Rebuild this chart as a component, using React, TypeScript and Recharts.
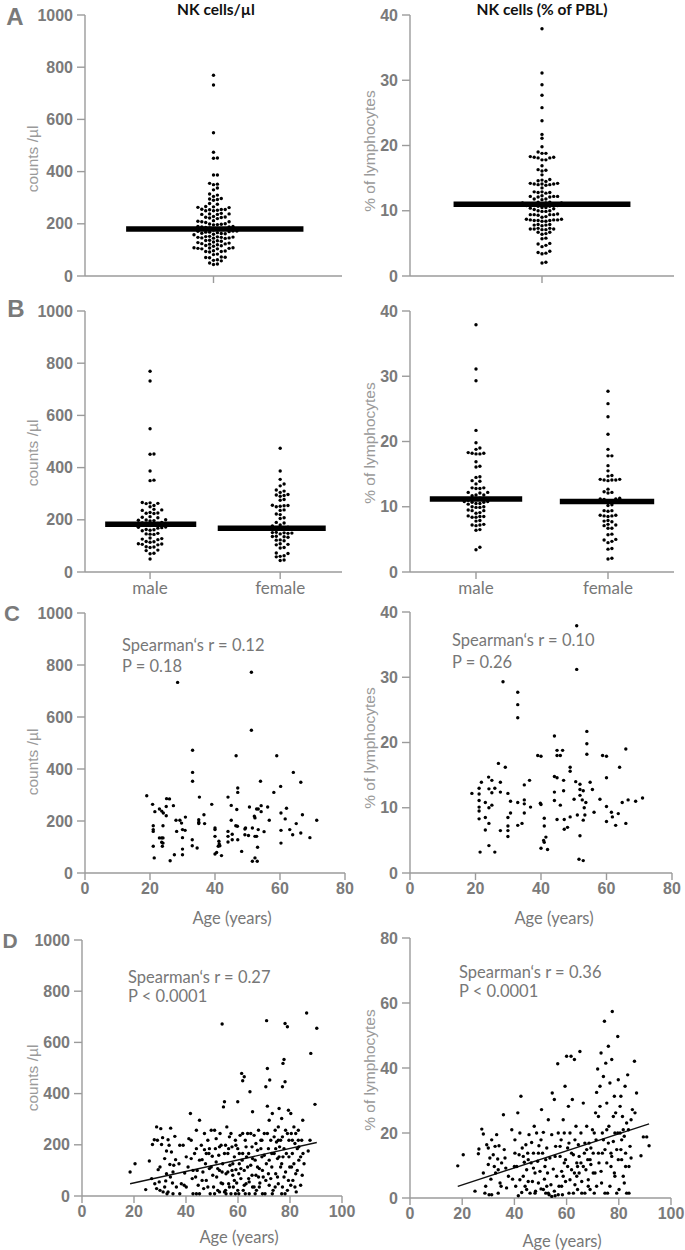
import React from 'react';
import { ScatterChart, Scatter, XAxis, YAxis, ReferenceLine } from 'recharts';

// NK cells per µl by sex (panel B); panel A pools both groups
const countsMale = [769, 732, 549, 452, 451, 387, 352, 350, 266, 265, 263, 262, 255, 250, 240, 238, 236, 228, 226, 225, 224, 212, 210, 208, 200, 199, 198, 197, 196, 190, 188, 186, 184, 182, 178, 172, 171, 170, 168, 163, 162, 160, 158, 148, 146, 145, 144, 130, 128, 126, 124, 117, 116, 114, 108, 107, 106, 104, 97, 96, 94, 84, 82, 72, 70, 50];
const countsFemale = [474, 387, 355, 337, 330, 314, 310, 305, 297, 295, 293, 290, 278, 275, 256, 255, 254, 252, 250, 238, 236, 222, 220, 208, 205, 190, 188, 180, 176, 172, 168, 166, 164, 152, 151, 150, 149, 148, 146, 137, 136, 135, 133, 123, 122, 120, 108, 106, 104, 94, 92, 73, 71, 62, 60, 58, 46, 44];

// NK cells as % of lymphocytes by sex
const pctMale = [37.9, 31.1, 29.3, 21.7, 19.8, 19.0, 18.8, 18.3, 18.2, 18.2, 18.1, 18.1, 16.9, 16.2, 16.1, 14.6, 14.5, 14.0, 13.9, 13.5, 12.9, 12.9, 12.8, 12.8, 12.2, 12.2, 12.1, 11.8, 11.8, 11.7, 11.3, 11.2, 11.0, 10.8, 10.8, 10.7, 10.7, 10.5, 10.5, 10.4, 10.0, 10.0, 9.9, 9.9, 9.5, 9.4, 9.4, 9.1, 9.0, 8.6, 8.5, 8.5, 8.4, 8.4, 7.9, 7.8, 7.3, 7.2, 7.2, 7.1, 6.5, 6.4, 3.8, 3.4];
const pctFemale = [27.7, 25.8, 23.8, 21.1, 18.8, 17.8, 17.8, 16.3, 15.5, 14.8, 14.7, 14.2, 14.1, 14.1, 14.0, 14.1, 14.2, 12.7, 12.3, 12.1, 12.2, 11.3, 11.2, 11.1, 11.2, 10.9, 10.8, 10.3, 10.2, 9.4, 9.3, 9.4, 8.7, 8.6, 8.5, 8.6, 8.7, 7.8, 7.7, 7.9, 7.2, 7.1, 7.3, 6.7, 6.7, 5.7, 5.8, 5.0, 4.9, 4.5, 4.7, 3.6, 3.5, 2.0, 2.1];

// medians: [value, line start, line end] (x in category units)
const medCountsAll = [180, -0.68, 0.7];
const medPctAll = [11.0, -0.67, 0.67];
const medCountsSex = [[183, 0.31, 1.71], [168, 2.04, 3.7]];
const medPctSex = [[11.2, 0.3, 1.7], [10.8, 2.27, 3.7]];
const sexLabels: Record<number, string> = { 1: 'male', 3: 'female' };

// panel C: [age, value]
const cCounts: [number, number][] = [[19,297],[20.8,264],[21.5,236],[21,182],[21,167],[21,160],[21,103],[21.3,58],[22.9,246],[23.6,238],[24.1,231],[22.9,135],[23.6,135],[24,135],[23.6,118],[24,115],[23.8,103],[24,182],[25,256],[25.1,286],[25,220],[26,285],[26.2,47],[27.2,259],[27.5,70],[28,203],[28.2,160],[28.5,733],[29.2,203],[29.7,192],[30,136],[30,167],[30,92],[30,70],[30.8,164],[30.9,215],[33.1,472],[33.1,387],[33.1,353],[33,128],[33,105],[34.5,96],[35.2,292],[35,205],[35,195],[35,190],[36.6,224],[36.8,190],[39,264],[40,173],[40,167],[40,141],[40,73],[40.5,79],[41.2,122],[41.3,112],[41,103],[41.5,105],[42,67],[44,292],[44,160],[44,141],[44,119],[45,260],[45,203],[45.3,149],[45.3,128],[46.5,451],[46.7,244],[46.9,180],[46.4,182],[47,310],[47,327],[47,128],[48.2,83],[49.2,169],[49.4,173],[49.2,147],[50.3,144],[50.6,254],[51.2,772],[51.2,549],[51.5,173],[51.5,45],[52.1,218],[52.3,212],[52.3,141],[52.8,141],[52.3,58],[53,45],[52.8,246],[53.3,246],[53.3,167],[53.1,99],[54,353],[54.2,259],[54.2,236],[55.1,159],[56.2,254],[56.7,203],[58.1,310],[59,451],[60.2,333],[60.3,231],[60.3,164],[60.3,115],[61.6,208],[62,249],[63,167],[63.9,147],[64.1,387],[65,190],[66.4,349],[66.4,154],[66.9,224],[69.2,136],[71.3,203]];
const cPct: [number, number][] = [[18.9,12.2],[21.1,13.0],[21.1,12.1],[21.1,11.1],[21.1,10.1],[21.1,9.5],[21.1,8.3],[21.4,3.2],[21.8,13.9],[23,10.8],[23,8.5],[23,6.6],[24,14.7],[24.1,12.9],[24.1,10.0],[24.1,7.6],[24.1,4.2],[25,14.2],[25,12.3],[25,10.4],[25.9,13.0],[25.9,3.2],[27,16.8],[27.6,13.9],[27.6,12.4],[27.6,6.5],[28.4,29.3],[29.1,16.2],[29.9,12.2],[29.9,8.5],[29.9,7.2],[29.9,6.5],[29.9,5.6],[30.7,11.0],[30.7,9.2],[32.9,27.7],[32.9,25.8],[32.9,23.8],[32.9,10.8],[32.9,7.3],[34.2,7.6],[34.9,13.5],[34.9,11.2],[34.9,10.6],[34.9,9.2],[36.5,14.2],[36.8,10.1],[39,18.0],[40,17.9],[39.8,10.7],[40,10.5],[40,3.8],[40.8,5.0],[41,4.7],[41,8.4],[41,7.2],[41.5,5.5],[42,3.6],[44.1,21.0],[44.1,14.8],[44.1,12.4],[44.1,11.1],[44.9,18.8],[44.9,18.0],[44.9,14.6],[44.9,8.2],[45.9,18.0],[45.9,10.4],[46.6,18.8],[46.9,14.2],[46.9,12.6],[47.1,8.2],[47.1,6.7],[48.1,7.0],[48.9,16.2],[48.9,15.6],[48.9,8.6],[50.1,11.3],[50.6,14.0],[50.9,37.9],[50.9,31.2],[51.1,8.9],[51.6,2.1],[51.9,13.6],[51.9,12.8],[51.9,11.9],[51.9,5.7],[52.6,11.2],[52.9,12.6],[52.9,8.1],[52.9,1.9],[53.2,10.0],[53.4,8.9],[53.7,10.8],[54,21.7],[54,19.8],[54,18.2],[55,13.9],[55.7,12.8],[56.2,9.3],[58,11.3],[58.8,18.0],[60,17.9],[60,14.6],[60,10.2],[60,7.9],[61.5,9.3],[61.8,8.6],[62.8,7.3],[63.6,9.1],[64,16.2],[64.8,10.8],[65.9,19.0],[65.9,7.6],[66.6,11.2],[68.9,11.0],[71,11.5]];

// panel D: [age, value]
const dCounts: [number, number][] = [[18.5,94],[20.4,126],[24.5,25],[25.9,137],[27.1,201],[27.8,220],[28.7,270],[29,218],[29.3,103],[29.7,55],[30,22],[30.3,263],[30.6,201],[31,228],[31.2,16],[31.8,146],[32.2,59],[32.5,176],[32.7,9],[33.1,220],[33.5,198],[33.8,123],[34,74],[34.1,265],[34.4,172],[34.8,51],[35,9],[35.3,120],[35.7,233],[36,142],[36.3,35],[28.7,29],[26.8,68],[28,48],[31.8,35],[33.1,16],[30,113],[32.5,87],[35,94],[37.6,198],[37.3,126],[38.2,48],[38.9,198],[39.5,90],[40.1,35],[40.8,113],[41.1,224],[41.7,322],[42,146],[42.4,68],[42.7,9],[43.3,166],[43.7,74],[44,257],[44.3,100],[44.7,42],[45.2,296],[45.2,9],[45.9,198],[46.2,142],[46.5,94],[46.8,29],[47.1,181],[47.5,126],[47.8,61],[48.4,218],[48.8,166],[49,107],[49.3,9],[49.7,257],[50.1,155],[50.3,81],[50.6,35],[51,257],[51.3,185],[51.6,133],[51.8,74],[52.2,22],[52.6,159],[52.9,100],[53.1,244],[53.5,51],[53.9,672],[54.1,126],[54.4,348],[54.8,368],[54.8,16],[55.2,198],[55.4,87],[55.7,270],[56.1,166],[56.4,48],[56.7,231],[56.9,120],[57.3,9],[57.7,192],[58,81],[58.2,35],[58.6,153],[59,218],[59.2,103],[59.5,51],[59.9,368],[59.9,185],[60.3,9],[60.5,126],[60.8,237],[61.1,68],[61.4,479],[61.8,450],[61.8,166],[62,22],[62.4,466],[62.4,100],[62.8,218],[63.1,48],[63.3,153],[63.7,244],[64.1,68],[64.3,9],[64.6,407],[64.9,120],[65.4,192],[65.6,329],[65.6,35],[66.2,237],[66.6,140],[66.9,81],[67.1,22],[67.5,179],[67.9,257],[68.2,107],[68.4,51],[68.8,218],[69.2,153],[69.4,9],[69.7,74],[70.1,244],[71,685],[70.7,427],[70.9,126],[71.3,498],[71.3,351],[71.7,185],[72,296],[72,42],[72.2,453],[72.6,218],[73,113],[73.2,322],[73.5,22],[73.9,166],[74.3,257],[74.5,87],[74.8,211],[75.2,146],[75.5,270],[75.5,48],[75.8,342],[76,192],[76.4,113],[76.8,303],[76.8,9],[77.1,427],[77.1,231],[77.3,518],[77.3,153],[77.7,533],[77.7,74],[78.1,674],[78.1,446],[78.3,257],[78.6,166],[79,661],[79,22],[79.4,335],[79.6,218],[79.9,113],[80.3,322],[80.5,244],[80.9,166],[81.1,61],[81.5,270],[81.9,205],[82.2,87],[82.4,16],[82.8,185],[83.2,257],[83.4,140],[84.1,42],[84.5,218],[84.7,81],[85,166],[85.4,126],[87.7,218],[84.9,296],[86.4,715],[87,176],[88,557],[89.6,358],[90.3,655],[51.6,224],[52.2,107],[52.9,16],[53.5,198],[54.1,48],[54.8,166],[55.4,9],[56.1,94],[56.7,35],[57.3,244],[58,126],[58.6,61],[59.2,198],[59.9,22],[60.5,166],[61.1,107],[61.8,244],[62.4,42],[63.1,192],[63.7,113],[64.3,55],[64.9,244],[65.6,146],[66.2,35],[66.9,205],[67.5,113],[68.2,35],[68.8,185],[69.4,100],[70.1,159],[70.7,61],[71.3,244],[72,140],[72.6,68],[73.2,9],[73.9,231],[74.5,185],[75.2,74],[75.8,153],[76.4,218],[77.1,35],[77.7,185],[78.3,94],[79,244],[79.6,153],[80.3,42],[80.9,218],[81.5,126],[82.2,244],[82.8,100],[83.4,192],[84.1,153],[42,218],[44,9],[45.2,140],[47.1,244],[48.4,35],[49,185],[40.1,153],[37.6,9],[39.3,42],[42.7,100],[44,185],[46.2,61],[47.8,166],[49.7,113],[51,9],[52.9,192],[53.9,94],[55.2,22],[56.4,185],[57.7,100],[59,9],[60.3,87],[61.6,140],[62.8,9],[64.1,166],[65.4,81],[66.6,9],[67.9,74],[69.2,218],[70.4,9],[71.7,87],[73,166],[74.3,35],[75.5,218],[76.8,126],[78.1,9],[79.4,61],[80.6,113],[81.9,35],[83.2,218]];
const dPct: [number, number][] = [[18.3,9.9],[20.4,13.3],[24.9,2.1],[26.2,13.6],[26.4,15.1],[27.5,21.2],[28.1,19.7],[28.1,7.7],[28.7,1.5],[29,3.6],[29.4,16.4],[30,15.4],[30,10.3],[30.3,1.0],[30.6,12.3],[31,5.8],[31.3,1.0],[31.9,13.3],[32.3,9.7],[32.6,15.9],[32.8,7.7],[33.2,19.5],[33.6,12.0],[33.8,1.5],[34.1,16.1],[34.5,4.6],[34.9,3.6],[35.1,10.8],[35.8,25.6],[36.1,14.9],[36.4,12.3],[36.7,9.2],[37,3.1],[39,21],[39.3,5.8],[40,9.7],[40.2,17.9],[40.5,3.6],[40.9,9.7],[41.3,26.2],[41.5,0.7],[41.8,13.3],[42.1,5.6],[42.5,31.3],[42.8,1.7],[43,15.4],[43.4,6.7],[43.8,11.0],[44.1,3.6],[44.4,16.4],[44.7,8.7],[45.1,13.8],[45.3,5.1],[45.6,19.5],[46,1.5],[46.4,10.8],[46.6,17.1],[46.9,5.1],[47.3,13.8],[47.6,22.1],[47.9,7.7],[48.1,2.1],[48.5,20],[48.9,11.3],[49.2,4.6],[49.4,16.1],[49.8,8.2],[50.2,2.8],[50.4,27.2],[50.8,13.8],[51.1,20.2],[51.5,5.8],[51.7,9.7],[52,1.5],[52.4,15.4],[52.7,7.7],[53,24.1],[53.3,1.0],[53.6,12.3],[54,4.1],[54.3,19.5],[54.5,32.3],[54.9,8.9],[55.3,30.3],[55.6,0.7],[55.8,15.9],[56.2,6.7],[56.6,41.3],[56.8,20],[57.1,3.6],[57.5,12.8],[57.9,17.9],[58.1,8.2],[58.4,1.0],[58.7,24.1],[59.1,10.8],[59.4,34.4],[59.6,5.1],[60,43.6],[60.4,15.4],[60.7,28.2],[60.9,1.5],[61.3,20],[61.7,43.6],[61.9,8.7],[62.2,30.3],[62.6,13.3],[63,42.6],[63.2,4.1],[63.6,22.1],[63.9,10.8],[64.2,2.6],[64.5,16.4],[65.1,45.1],[64.8,7.7],[65.5,20],[65.8,5.1],[66.4,29.2],[66.8,13.8],[67,1.5],[67.4,8.7],[67.7,22.1],[68.1,11.8],[68.3,5.6],[68.6,16.9],[69,2.6],[69.3,10.3],[69.9,21],[70.2,13.8],[70.6,1.5],[70.9,7.7],[71.3,17.9],[71.5,32.5],[71.9,39.7],[72.2,25.1],[72.4,10.8],[72.8,34.4],[73.2,44.6],[73.4,4.6],[73.7,20],[74.1,37.4],[74.5,54.4],[74.7,14.9],[75,41.5],[75.4,29.2],[75.7,1.5],[76,46.7],[76.2,22.1],[76.6,35.4],[77,9.7],[77.3,42.6],[77.5,57.4],[77.9,17.4],[78.3,31.3],[78.5,6.7],[78.8,26.2],[79.2,14.9],[79.6,49.7],[79.8,36.4],[80.1,2.6],[80.5,20],[80.8,31.3],[81.1,11.8],[81.4,25.1],[81.7,6.7],[82.1,19],[82.4,34.4],[82.6,13.8],[83,1.5],[83.4,37.9],[83.7,21],[83.9,9.7],[84.3,15.9],[84.7,24.1],[85.2,27.2],[86,42.1],[86.2,26.2],[86.8,32.3],[88.5,13],[89.4,18.8],[90.7,18.8],[91.6,16.1],[51.1,2.6],[53,1.5],[54.3,0.5],[55.3,2.1],[56.8,1.0],[58.1,3.6],[58.7,6.7],[59.6,11.8],[60.4,9.7],[61.3,5.6],[61.9,13.8],[62.6,1.5],[63.2,17.9],[63.9,6.7],[64.8,12.8],[65.8,1.5],[66.4,9.7],[67,16.9],[68.3,3.6],[69.3,15.4],[70.2,7.7],[71.5,3.6],[72.2,13.8],[73.2,8.2],[74.1,17.9],[74.7,1.5],[75.4,10.8],[76,16.9],[76.6,3.6],[77.3,12.8],[77.9,25.1],[78.5,20],[79.2,1.5],[79.8,11.8],[80.5,28.2],[81.1,17.9],[82.1,4.6],[83,23.1],[83.9,1.5],[84.7,12.3],[45.3,11.8],[47.3,9.2],[49.2,13.8],[50.2,17.9],[52,11.8],[47.9,1.5],[43.4,12.8],[37.7,6.7],[33.8,8.7],[31.3,17.9],[42.1,20],[40.2,13.8],[44.7,2.6],[52.4,3.6],[55.6,12.8],[57.5,15.9],[59.1,20],[60.9,16.9],[63,7.7],[64.2,9.7],[65.5,10.8],[67.7,14.9],[69,11.8],[70.6,20],[71.1,26.2],[72.8,28.2],[73.7,13.8],[75.4,21],[77,13.8],[78.3,7.7],[79.6,20],[80.8,14.9],[81.7,21],[82.6,9.7]];

// linear fits in panel D: [age, value] endpoints
const dCountsFit = [[18.5, 48], [90.3, 209]];
const dPctFit = [[18.3, 3.6], [91.6, 22.8]];

const ageTicks = [0, 20, 40, 60, 80];
const ageTicksD = [0, 20, 40, 60, 80, 100];
const countTicks = [0, 200, 400, 600, 800, 1000];
const pctTicks = [0, 10, 20, 30, 40];
const pctTicksD = [0, 20, 40, 60, 80];

const AXIS = '#9b9b9b';
const GREY = '#7a7a7a';
const TICK = { fill: GREY, fontSize: 16, fontWeight: 700, fontFamily: '"Liberation Sans", Arial, sans-serif' };
const CAT_TICK = { fill: '#777', fontSize: 17, fontFamily: 'Lato, sans-serif' };
const Y_W = 60;
const TOP = 10;
const RIGHT = 14;
const X_H = 34;

type Rect = { x: number; y: number; w: number; h: number };

const Dot = (p: any) => <circle cx={p.cx} cy={p.cy} r={1.7} fill="#000" />;

const pairs = (arr: [number, number][]) => arr.map(([x, y]) => ({ x, y }));

// beeswarm placement: spreads equal-ish values sideways so dots do not overlap
function swarm(values: number[], center: number, pxPerY: number, pxPerX: number) {
  const step = 3.9;
  const minDist = 3.7;
  const placed: { px: number; py: number }[] = [];
  return [...values].sort((a, b) => a - b).map((v) => {
    const py = v * pxPerY;
    let px = 0;
    for (let i = 0; i < 80; i++) {
      const k = i === 0 ? 0 : (i % 2 ? 1 : -1) * Math.ceil(i / 2);
      const cand = k * step;
      if (!placed.some((p) => Math.hypot(p.px - cand, p.py - py) < minDist)) {
        px = cand;
        break;
      }
    }
    placed.push({ px, py });
    return { x: center + px / pxPerX, y: v };
  });
}

interface PanelProps {
  rect: Rect;
  xDomain: number[];
  xTicks: number[];
  yDomain: number[];
  yTicks: number[];
  xFormat?: (v: number) => string;
  xTick?: object;
  children?: React.ReactNode;
}

const Panel: React.FC<PanelProps> = ({ rect, xDomain, xTicks, yDomain, yTicks, xFormat, xTick, children }) => (
  <div style={{ position: 'absolute', left: rect.x - Y_W, top: rect.y - TOP }}>
    <ScatterChart
      width={Y_W + rect.w + RIGHT}
      height={TOP + rect.h + X_H}
      margin={{ top: TOP, right: RIGHT, bottom: 0, left: 0 }}
      style={{ overflow: 'visible' }}
    >
      <XAxis
        type="number"
        dataKey="x"
        domain={xDomain}
        ticks={xTicks}
        interval={0}
        height={X_H}
        stroke={AXIS}
        strokeWidth={1.4}
        tickSize={7}
        tickMargin={3}
        tick={xTick || TICK}
        tickFormatter={xFormat}
        allowDataOverflow
      />
      <YAxis
        type="number"
        dataKey="y"
        domain={yDomain}
        ticks={yTicks}
        interval={0}
        width={Y_W}
        stroke={AXIS}
        strokeWidth={1.4}
        tickSize={8}
        tickMargin={4}
        tick={TICK}
        allowDataOverflow
      />
      {children}
    </ScatterChart>
  </div>
);

const Txt: React.FC<{ x: number; y: number; style?: React.CSSProperties; start?: boolean; rotate?: boolean; children: React.ReactNode }> = ({ x, y, style, start, rotate, children }) => (
  <div
    style={{
      position: 'absolute',
      left: x,
      top: y,
      whiteSpace: 'nowrap',
      lineHeight: 1,
      transform: `translate(${start ? '0' : '-50%'}, -50%)${rotate ? ' rotate(-90deg)' : ''}`,
      ...style,
    }}
  >
    {children}
  </div>
);

const letter: React.CSSProperties = { fontFamily: '"Liberation Sans", Arial, sans-serif', fontWeight: 700, fontSize: 24, color: GREY };
const title: React.CSSProperties = { fontFamily: 'Lato, sans-serif', fontWeight: 700, fontSize: 15.5, color: '#111' };
const yLab: React.CSSProperties = { fontFamily: '"Liberation Sans", Arial, sans-serif', fontSize: 15.5, color: '#9a9a9a' };
const note: React.CSSProperties = { fontFamily: 'Lato, sans-serif', fontSize: 16.5, color: '#777' };
const xLab: React.CSSProperties = { fontFamily: 'Lato, sans-serif', fontSize: 16.5, color: '#777' };

const R = {
  aL: { x: 85, y: 15, w: 257, h: 261 },
  aR: { x: 410, y: 15, w: 264, h: 261 },
  bL: { x: 85, y: 311, w: 257, h: 261 },
  bR: { x: 410, y: 311, w: 264, h: 261 },
  cL: { x: 85, y: 613, w: 260, h: 260 },
  cR: { x: 410, y: 612, w: 262, h: 261 },
  dL: { x: 82, y: 940, w: 260, h: 256 },
  dR: { x: 410, y: 938, w: 261, h: 260 },
};

const MedianLine = ({ m }: { m: number[] }) => (
  <ReferenceLine segment={[{ x: m[1], y: m[0] }, { x: m[2], y: m[0] }]} stroke="#000" strokeWidth={5.5} ifOverflow="visible" />
);

export default function App() {
  const allCounts = [...countsMale, ...countsFemale];
  const allPct = [...pctMale, ...pctFemale];
  const swA1 = swarm(allCounts, 0, R.aL.h / 1000, R.aL.w / 2);
  const swA2 = swarm(allPct, 0, R.aR.h / 40, R.aR.w / 2);
  const swB1m = swarm(countsMale, 1, R.bL.h / 1000, R.bL.w / 3.95);
  const swB1f = swarm(countsFemale, 3, R.bL.h / 1000, R.bL.w / 3.95);
  const swB2m = swarm(pctMale, 1, R.bR.h / 40, R.bR.w / 4);
  const swB2f = swarm(pctFemale, 3, R.bR.h / 40, R.bR.w / 4);
  const blank = () => '';
  const sex = (v: number) => sexLabels[v] || '';

  return (
    <div style={{ position: 'absolute', left: 0, top: 0, width: 685, height: 1250, background: '#fff', overflow: 'hidden' }}>
      <Txt x={15} y={17} style={letter}>A</Txt>
      <Txt x={16} y={309} style={letter}>B</Txt>
      <Txt x={12} y={614} style={{ ...letter, fontSize: 22 }}>C</Txt>
      <Txt x={10} y={940} style={{ ...letter, fontSize: 21 }}>D</Txt>

      <Txt x={216} y={10} style={title}>NK cells/µl</Txt>
      <Txt x={542} y={10} style={title}>NK cells (% of PBL)</Txt>

      <Panel rect={R.aL} xDomain={[-1, 1]} xTicks={[0]} yDomain={[0, 1000]} yTicks={countTicks} xFormat={blank}>
        <Scatter data={swA1} shape={Dot} isAnimationActive={false} />
        <MedianLine m={medCountsAll} />
      </Panel>
      <Panel rect={R.aR} xDomain={[-1, 1]} xTicks={[0]} yDomain={[0, 40]} yTicks={pctTicks} xFormat={blank}>
        <Scatter data={swA2} shape={Dot} isAnimationActive={false} />
        <MedianLine m={medPctAll} />
      </Panel>

      <Panel rect={R.bL} xDomain={[0, 3.95]} xTicks={[1, 3]} yDomain={[0, 1000]} yTicks={countTicks} xFormat={sex} xTick={CAT_TICK}>
        <Scatter data={swB1m} shape={Dot} isAnimationActive={false} />
        <Scatter data={swB1f} shape={Dot} isAnimationActive={false} />
        <MedianLine m={medCountsSex[0]} />
        <MedianLine m={medCountsSex[1]} />
      </Panel>
      <Panel rect={R.bR} xDomain={[0, 4]} xTicks={[1, 3]} yDomain={[0, 40]} yTicks={pctTicks} xFormat={sex} xTick={CAT_TICK}>
        <Scatter data={swB2m} shape={Dot} isAnimationActive={false} />
        <Scatter data={swB2f} shape={Dot} isAnimationActive={false} />
        <MedianLine m={medPctSex[0]} />
        <MedianLine m={medPctSex[1]} />
      </Panel>

      <Panel rect={R.cL} xDomain={[0, 80]} xTicks={ageTicks} yDomain={[0, 1000]} yTicks={countTicks}>
        <Scatter data={pairs(cCounts)} shape={Dot} isAnimationActive={false} />
      </Panel>
      <Panel rect={R.cR} xDomain={[0, 80]} xTicks={ageTicks} yDomain={[0, 40]} yTicks={pctTicks}>
        <Scatter data={pairs(cPct)} shape={Dot} isAnimationActive={false} />
      </Panel>

      <Panel rect={R.dL} xDomain={[0, 100]} xTicks={ageTicksD} yDomain={[0, 1000]} yTicks={countTicks}>
        <Scatter data={pairs(dCounts)} shape={Dot} isAnimationActive={false} />
        <ReferenceLine segment={dCountsFit.map(([x, y]) => ({ x, y }))} stroke="#111" strokeWidth={1.4} />
      </Panel>
      <Panel rect={R.dR} xDomain={[0, 100]} xTicks={ageTicksD} yDomain={[0, 80]} yTicks={pctTicksD}>
        <Scatter data={pairs(dPct)} shape={Dot} isAnimationActive={false} />
        <ReferenceLine segment={dPctFit.map(([x, y]) => ({ x, y }))} stroke="#111" strokeWidth={1.4} />
      </Panel>

      <Txt x={33} y={159} rotate style={yLab}>counts /µl</Txt>
      <Txt x={370} y={151} rotate style={yLab}>% of lymphocytes</Txt>
      <Txt x={33} y={453} rotate style={yLab}>counts /µl</Txt>
      <Txt x={370} y={443} rotate style={yLab}>% of lymphocytes</Txt>
      <Txt x={33} y={762} rotate style={yLab}>counts /µl</Txt>
      <Txt x={370} y={748} rotate style={yLab}>% of lymphocytes</Txt>
      <Txt x={33} y={1078} rotate style={yLab}>counts /µl</Txt>
      <Txt x={370} y={1070} rotate style={yLab}>% of lymphocytes</Txt>

      <Txt x={232} y={918} style={xLab}>Age (years)</Txt>
      <Txt x={554} y={918} style={xLab}>Age (years)</Txt>
      <Txt x={239} y={1237} style={xLab}>Age (years)</Txt>
      <Txt x={562} y={1241} style={xLab}>Age (years)</Txt>

      <Txt x={122} y={645} start style={note}>Spearman‘s r = 0.12</Txt>
      <Txt x={122} y={666} start style={note}>P = 0.18</Txt>
      <Txt x={452} y={640} start style={note}>Spearman‘s r = 0.10</Txt>
      <Txt x={452} y={662} start style={note}>P = 0.26</Txt>
      <Txt x={128} y={977} start style={note}>Spearman‘s r = 0.27</Txt>
      <Txt x={128} y={996} start style={note}>P &lt; 0.0001</Txt>
      <Txt x={459} y={972} start style={note}>Spearman‘s r = 0.36</Txt>
      <Txt x={459} y={991} start style={note}>P &lt; 0.0001</Txt>
    </div>
  );
}
